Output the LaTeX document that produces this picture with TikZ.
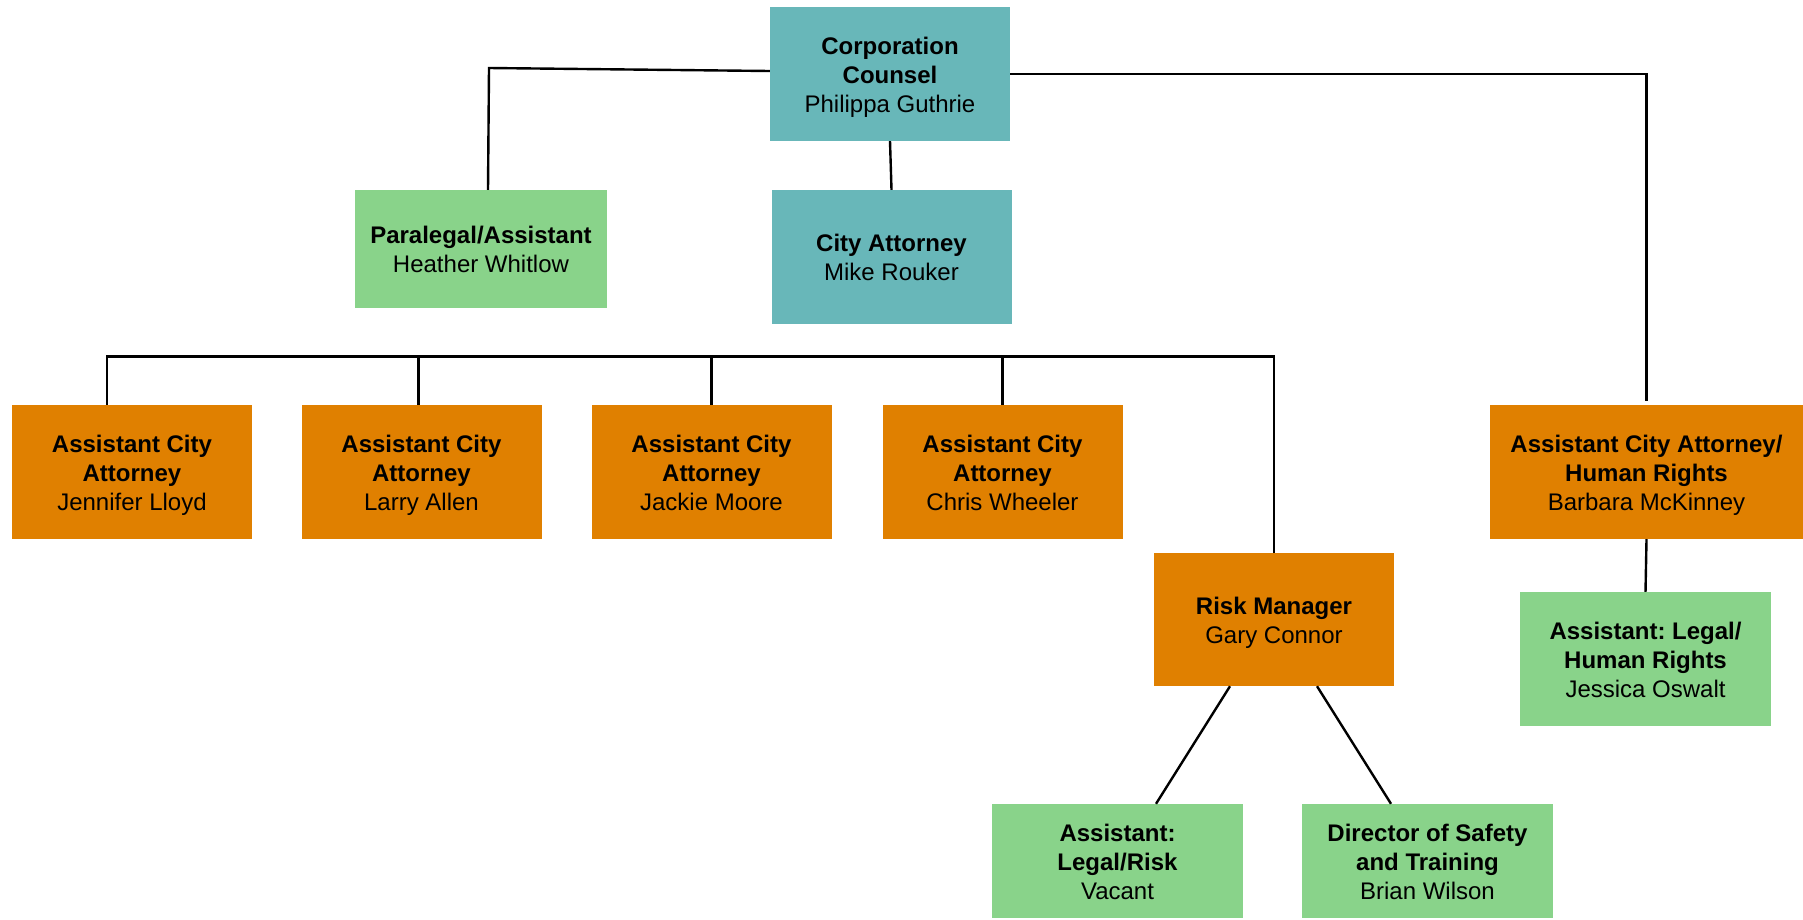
\documentclass[tikz,border=0pt]{standalone}
\usepackage{fontspec}
\setmainfont{Liberation Sans}
\frenchspacing
\definecolor{tealfill}{RGB}{104,183,185}
\definecolor{greenfill}{RGB}{137,211,138}
\definecolor{orangefill}{RGB}{224,128,0}
\begin{document}
\begin{tikzpicture}[x=1pt,y=-1pt,
  box/.style={rectangle, inner sep=0pt},
  caption/.style={inner sep=0pt, align=center, yshift=-5pt,
    font=\fontsize{24}{29}\selectfont,
    execute at begin node=\strut, execute at end node=\strut},
  tealbox/.style={box, fill=tealfill},
  greenbox/.style={box, fill=greenfill},
  orangebox/.style={box, fill=orangefill},
  std/.style={minimum width=240pt, minimum height=134pt},
  txt/.style={label={[caption]center:{#1}}},
  link/.style={draw=black, line width=2.4pt}
]
\useasboundingbox (0,0) rectangle (1803,919);

% top level
\node[tealbox, std, txt={\textbf{Corporation}\\\textbf{Counsel}\\Philippa Guthrie}]
  (cc) at (890,74) {};
\node[greenbox, minimum width=252pt, minimum height=118pt,
  txt={\textbf{Paralegal/Assistant}\\Heather Whitlow}] (para) at (481,249) {};
\node[tealbox, std, txt={\textbf{City Attorney}\\Mike Rouker}]
  (city) at (891.5,257) {};

% assistant city attorneys
\node[orangebox, std, txt={\textbf{Assistant City}\\\textbf{Attorney}\\Jennifer Lloyd}]
  (aca1) at (132,472) {};
\node[orangebox, std, txt={\textbf{Assistant City}\\\textbf{Attorney}\\Larry Allen}]
  (aca2) at (421.5,472) {};
\node[orangebox, std, txt={\textbf{Assistant City}\\\textbf{Attorney}\\Jackie Moore}]
  (aca3) at (711.5,472) {};
\node[orangebox, std, txt={\textbf{Assistant City}\\\textbf{Attorney}\\Chris Wheeler}]
  (aca4) at (1002.5,472) {};
\node[orangebox, minimum width=313pt, minimum height=134pt,
  txt={\textbf{Assistant City Attorney/}\\\textbf{Human Rights}\\Barbara McKinney}]
  (barb) at (1646.5,472) {};

% risk management
\node[orangebox, minimum width=240pt, minimum height=133pt,
  txt={\textbf{Risk Manager}\\Gary Connor}] (risk) at (1274,619.5) {};
\node[greenbox, minimum width=251pt, minimum height=134pt,
  txt={\textbf{Assistant: Legal/}\\\textbf{Human Rights}\\Jessica Oswalt}]
  (jess) at (1645.5,659) {};
\node[greenbox, minimum width=251pt, minimum height=114pt,
  txt={\textbf{Assistant:}\\\textbf{Legal/Risk}\\Vacant}] (vac) at (1117.5,861) {};
\node[greenbox, minimum width=251pt, minimum height=114pt,
  txt={\textbf{Director of Safety}\\\textbf{and Training}\\Brian Wilson}]
  (brian) at (1427.5,861) {};

% connectors
\coordinate (bus) at (0,356.5);
\draw[link] ([yshift=3pt]cc.west) -- ([xshift=8pt,yshift=6pt]para.north |- cc.west) -- ([xshift=7pt]para.north);
\draw[link] (cc.south) -- (city.north);
\draw[link] (cc.east) -- (cc.east -| barb.north) -- ([yshift=4pt]barb.north);
\draw[link] (barb.south) -- (jess.north);
\draw[link] ([xshift=-25pt]aca1.north) -- ([xshift=-25pt]aca1.north |- bus)
  -- (bus -| risk.north) -- (risk.north);
\draw[link] ([xshift=-3pt]aca2.north) -- ([xshift=-3pt]aca2.north |- bus);
\draw[link] (aca3.north) -- (aca3.north |- bus);
\draw[link] (aca4.north) -- (aca4.north |- bus);
\draw[link] ([xshift=-44pt]risk.south) -- ([xshift=38.5pt]vac.north);
\draw[link] ([xshift=43pt]risk.south) -- ([xshift=-36.5pt]brian.north);
\end{tikzpicture}
\end{document}
